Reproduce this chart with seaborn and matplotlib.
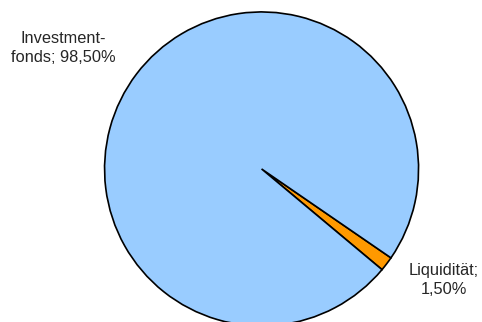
import matplotlib
matplotlib.use("Agg")
import matplotlib.pyplot as plt
import seaborn as sns

sns.set_style("white")
plt.rcParams['font.family'] = ['Liberation Sans', 'DejaVu Sans']

categories = ["Liquidität", "Investmentfonds"]
shares = [1.50, 98.50]
label_texts = ["Liquidität;\n1,50%", "Investment-\nfonds; 98,50%"]
colors = sns.color_palette(["#FF9900", "#99CCFF"])

fig = plt.figure(figsize=(4.82, 3.22), dpi=100)
ax = fig.add_axes([0, 0, 1, 1])

ax.pie(shares, colors=colors, startangle=-34.5, counterclock=False,
       radius=1.0, center=(0, 0),
       wedgeprops=dict(edgecolor="black", linewidth=1.2))

ax.set_xlim(-1.666, 1.404)
ax.set_ylim(-0.975, 1.076)
ax.set_aspect('auto')
ax.axis('off')

# data label placement (axes fraction)
ax.text(444 / 482, 1 - 280 / 322, label_texts[0], transform=ax.transAxes,
        ha='center', va='center', fontsize=11.8, linespacing=1.3)
ax.text(63 / 482, 1 - 48 / 322, label_texts[1], transform=ax.transAxes,
        ha='center', va='center', fontsize=11.8, linespacing=1.3)

fig.savefig("out.png", dpi=100, facecolor="white")
